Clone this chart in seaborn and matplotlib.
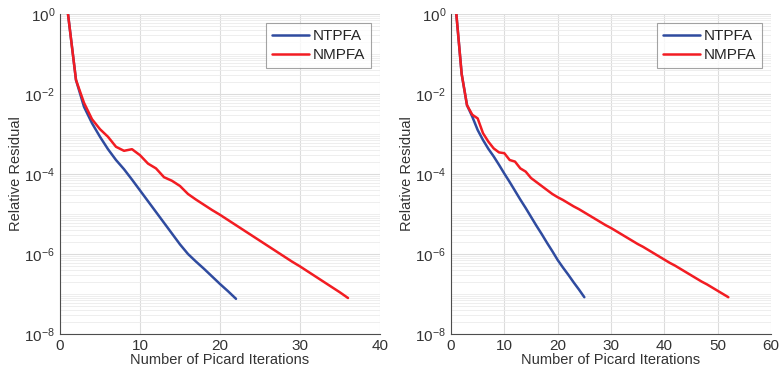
import numpy as np
import pandas as pd
import matplotlib
matplotlib.use("Agg")
import matplotlib.pyplot as plt
import matplotlib.ticker as mticker
import seaborn as sns

# ---- data (log10 of relative residual) ----
left_ntpfa_log = [0, -1.65, -2.32, -2.73, -3.07, -3.38, -3.65, -3.88, -4.14, -4.41,
                  -4.68, -4.95, -5.22, -5.49, -5.76, -6.00, -6.19, -6.37, -6.56, -6.75,
                  -6.93, -7.12]
left_nmpfa_log = [0, -1.65, -2.22, -2.63, -2.88, -3.07, -3.32, -3.42, -3.38, -3.53,
                  -3.74, -3.86, -4.08, -4.17, -4.30, -4.50, -4.64, -4.77, -4.90, -5.02,
                  -5.15, -5.28, -5.41, -5.54, -5.67, -5.80, -5.93, -6.06, -6.19, -6.31,
                  -6.44, -6.57, -6.70, -6.83, -6.96, -7.10]
right_ntpfa_log = [0, -1.50, -2.28, -2.57, -2.90, -3.15, -3.37, -3.56, -3.77, -3.99,
                   -4.20, -4.42, -4.64, -4.85, -5.07, -5.29, -5.50, -5.72, -5.93, -6.15,
                   -6.34, -6.52, -6.71, -6.89, -7.08]
right_nmpfa_log = [0, -1.50, -2.28, -2.52, -2.61, -2.98, -3.19, -3.36, -3.46, -3.48,
                   -3.65, -3.69, -3.86, -3.94, -4.10, -4.20, -4.30, -4.40, -4.50, -4.58,
                   -4.65, -4.73, -4.81, -4.88, -4.96, -5.04, -5.12, -5.20, -5.28, -5.35,
                   -5.43, -5.51, -5.59, -5.67, -5.75, -5.82, -5.90, -5.98, -6.06, -6.14,
                   -6.22, -6.29, -6.37, -6.45, -6.53, -6.61, -6.69, -6.76, -6.84, -6.92,
                   -7.00, -7.08]
series_names = ["NTPFA", "NMPFA"]
left_xticks = [0, 10, 20, 30, 40]
right_xticks = [0, 10, 20, 30, 40, 50, 60]
ytick_exps = [0, -2, -4, -6, -8]

colors = {"NTPFA": "#2F4B9F", "NMPFA": "#F21C22"}


def make_df(ntpfa, nmpfa):
    rows = []
    for name, vals in zip(series_names, [ntpfa, nmpfa]):
        for i, v in enumerate(vals):
            rows.append({"Iteration": i + 1, "Residual": 10.0 ** v, "Method": name})
    return pd.DataFrame(rows)


sns.set_style("white")
plt.rcParams["font.family"] = ["Liberation Sans", "DejaVu Sans"]
plt.rcParams["mathtext.fontset"] = "custom"
plt.rcParams["mathtext.rm"] = "Liberation Sans"
plt.rcParams["mathtext.it"] = "Liberation Sans"

fig = plt.figure(figsize=(7.81, 3.79), dpi=100)
W, H = 781, 379
axes = [
    fig.add_axes([60 / W, (H - 334) / H, 320 / W, 320 / H]),
    fig.add_axes([451 / W, (H - 334) / H, 320 / W, 320 / H]),
]

panels = [
    (make_df(left_ntpfa_log, left_nmpfa_log), left_xticks),
    (make_df(right_ntpfa_log, right_nmpfa_log), right_xticks),
]

for ax, (df, xt) in zip(axes, panels):
    sns.lineplot(data=df, x="Iteration", y="Residual", hue="Method",
                 palette=colors, linewidth=1.8, ax=ax, legend=True)
    ax.set_yscale("log")
    ax.set_ylim(1e-8, 1)
    ax.set_xlim(xt[0], xt[-1])
    ax.set_xticks(xt)
    ax.set_yticks([10.0 ** e for e in ytick_exps])
    ax.yaxis.set_major_formatter(mticker.FuncFormatter(
        lambda v, p: r"$10^{%d}$" % int(round(np.log10(v)))))
    ax.yaxis.set_minor_locator(mticker.LogLocator(base=10, subs=np.arange(1, 10), numticks=20))
    ax.yaxis.set_minor_formatter(mticker.NullFormatter())
    ax.grid(True, which="major", color="#DCDCDC", linewidth=0.8)
    ax.grid(True, which="minor", axis="y", color="#EBEBEB", linewidth=0.6)
    ax.set_axisbelow(True)
    for s in ["top", "right"]:
        ax.spines[s].set_visible(False)
    for s in ["left", "bottom"]:
        ax.spines[s].set_color("#4D4D4D")
        ax.spines[s].set_linewidth(0.8)
    ax.tick_params(which="both", direction="in", colors="#4D4D4D", labelcolor="#333333",
                   labelsize=11)
    ax.tick_params(which="major", length=4)
    ax.tick_params(which="minor", length=2)
    ax.set_xlabel("Number of Picard Iterations", fontsize=10.5, color="#333333", labelpad=0)
    ax.set_ylabel("Relative Residual", fontsize=10.5, color="#333333", labelpad=1)
    leg = ax.legend(loc="upper right", fontsize=11, frameon=True, fancybox=False,
                    edgecolor="#8C8C8C", handlelength=2.4, borderaxespad=0.6,
                    handletextpad=0.25, labelspacing=0.3, borderpad=0.4)
    leg.get_frame().set_linewidth(0.8)
    leg.set_title(None)

fig.savefig("out.png", dpi=100)
